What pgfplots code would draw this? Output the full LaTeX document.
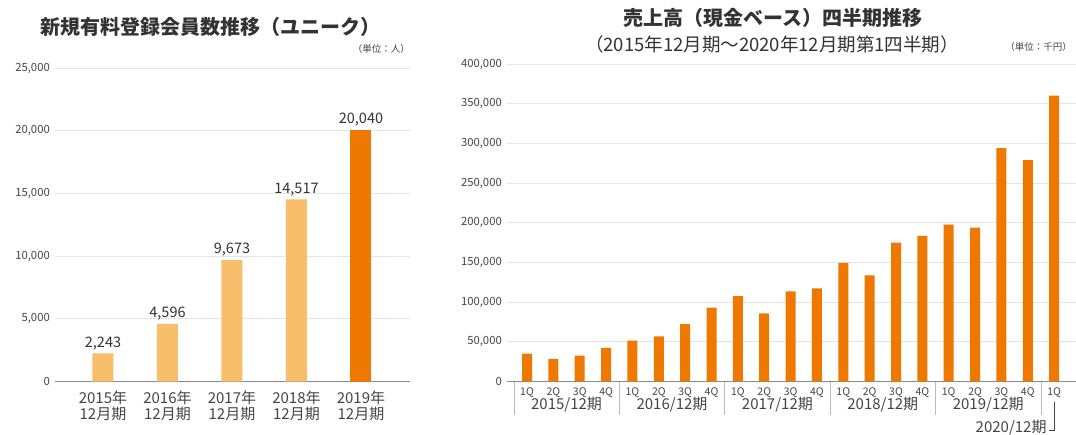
\documentclass[border=0pt]{standalone}
\usepackage{fontspec}
\setmainfont{Noto Sans CJK JP}
\usepackage{pgfplots}
\pgfplotsset{compat=1.18}
\definecolor{lightor}{HTML}{F8BE6C}
\definecolor{darkor}{HTML}{EE7800}
\definecolor{txt}{HTML}{333333}
\definecolor{tickc}{HTML}{444444}
\definecolor{gridc}{HTML}{E4E4E4}
\definecolor{axisc}{HTML}{8A8A8A}
\definecolor{sepc}{HTML}{BBBBBB}
\pgfplotsset{
  common/.style={
    scale only axis, anchor=south west, ymin=0,
    ymajorgrids, grid style={gridc, line width=0.9pt},
    axis line style={draw=none}, major tick length=0pt,
    extra y ticks={0}, extra y tick labels={},
    extra y tick style={grid style={axisc, line width=1.1pt}},
    scaled y ticks=false,
    /pgf/number format/fixed,
    /pgf/number format/1000 sep={,},
    /pgf/number format/assume math mode=true,
    yticklabel style={font=\fontsize{11.3}{12}\selectfont, text=tickc, inner sep=0pt, xshift=-5pt},
    clip=false,
  }
}
\begin{document}
\begin{tikzpicture}[x=1pt,y=1pt]
\path[use as bounding box] (0,0) rectangle (1076,434);
% ---- left chart ----
\node[text=txt, font=\bfseries\fontsize{20}{24}\selectfont] at (210,407) {新規有料登録会員数推移（ユニーク）};
\node[text=tickc, font=\fontsize{9.5}{10}\selectfont, anchor=east, inner sep=0pt] at (410,385) {（単位：人）};
\begin{axis}[common,
  at={(55pt,52.5pt)}, width=355pt, height=313.5pt,
  xmin=-0.744, xmax=4.76, ymax=25000,
  ytick={0,5000,...,25000},
  xtick={0,1,2,3,4},
  xticklabels={2015年\\12月期,2016年\\12月期,2017年\\12月期,2018年\\12月期,2019年\\12月期},
  xticklabel style={align=center, font=\fontsize{15}{16}\selectfont, text=tickc, inner sep=0pt, yshift=-9.5pt},
  nodes near coords style={font=\fontsize{14.5}{16}\selectfont, text=txt},
]
\addplot[ybar, bar width=21pt, bar shift=0pt, fill=lightor, draw=none, nodes near coords]
  coordinates {(0,2243) (1,4596) (2,9673) (3,14517)};
\addplot[ybar, bar width=21pt, bar shift=0pt, fill=darkor, draw=none, nodes near coords]
  coordinates {(4,20040)};
\end{axis}
% ---- right chart ----
\node[text=txt, font=\bfseries\fontsize{20}{24}\selectfont] at (773,416) {売上高（現金ベース）四半期推移};
\node[text=txt, font=\fontsize{18.5}{20}\selectfont] at (772,390) {（2015年12月期～2020年12月期第1四半期）};
\node[text=tickc, font=\fontsize{9.5}{10}\selectfont, anchor=east, inner sep=0pt] at (1072,387) {（単位：千円）};
\begin{axis}[common,
  at={(507pt,52.5pt)}, width=569pt, height=317.5pt,
  xmin=-0.76, xmax=20.83, ymax=400000,
  ytick={0,50000,...,400000},
  xtick={0,...,20},
  xticklabels={1Q,2Q,3Q,4Q,1Q,2Q,3Q,4Q,1Q,2Q,3Q,4Q,1Q,2Q,3Q,4Q,1Q,2Q,3Q,4Q,1Q},
  xticklabel style={font=\fontsize{10.5}{12}\selectfont, text=tickc, inner sep=0pt, yshift=-5.5pt},
]
\addplot[ybar, bar width=10pt, bar shift=0pt, fill=darkor, draw=none]
  coordinates {(0,35100) (1,28400) (2,32600) (3,42400) (4,51600) (5,56700) (6,72300)
   (7,93100) (8,107500) (9,85900) (10,113400) (11,117300) (12,149400) (13,133800)
   (14,175100) (15,183600) (16,197600) (17,193800) (18,294000) (19,278800) (20,360000)};
\foreach \s in {-0.5,3.5,7.5,11.5,15.5,19.5} {
  \edef\tmp{\noexpand\draw[sepc, line width=0.7pt] (axis cs:\s,0) -- ([yshift=-33pt]axis cs:\s,0);}\tmp
}
\foreach \c/\lab in {1.5/2015,5.5/2016,9.5/2017,13.5/2018,17.5/2019} {
  \edef\tmp{\noexpand\node[text=tickc, font=\noexpand\fontsize{15}{16}\noexpand\selectfont, inner sep=0pt] at ([yshift=-23.5pt]axis cs:\c,0) {\lab/12期};}\tmp
}
\node[text=tickc, font=\fontsize{15}{16}\selectfont, inner sep=0pt, anchor=east] at ([yshift=-46pt]axis cs:19.72,0) {2020/12期};
\draw[tickc, line width=0.8pt] ([yshift=-20pt]axis cs:20,0) -- ([yshift=-49pt]axis cs:20,0) -- ([yshift=-49pt]axis cs:19.8,0);
\end{axis}
\end{tikzpicture}
\end{document}
